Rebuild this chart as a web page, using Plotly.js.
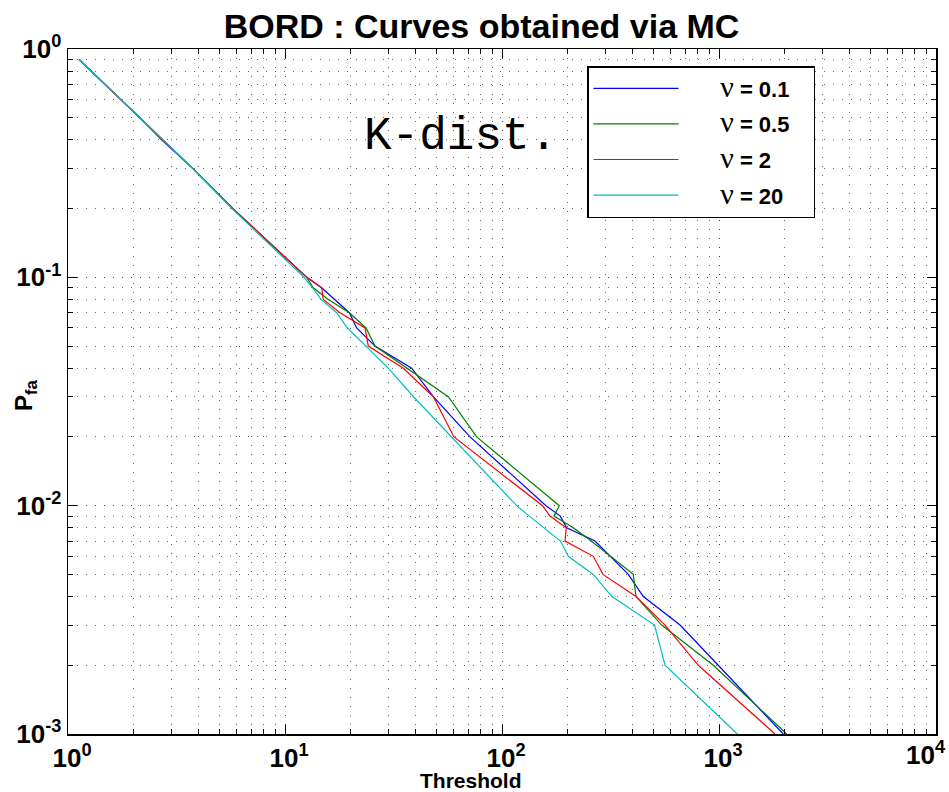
<!DOCTYPE html>
<html>
<head>
<meta charset="utf-8">
<script src="https://cdn.plot.ly/plotly-3.0.1.min.js"></script>
<style>
  html, body { margin: 0; padding: 0; background: #ffffff; }
  #chart { width: 949px; height: 792px; }
</style>
</head>
<body>
<div id="chart"></div>
<script>
// Probability of false alarm levels (common to all curves)
const pfa = [0.9, 0.8, 0.7, 0.6, 0.5, 0.4, 0.3, 0.2,
             0.1, 0.09, 0.08, 0.07, 0.06, 0.05, 0.04, 0.03, 0.02,
             0.01, 0.009, 0.008, 0.007, 0.006, 0.005, 0.004, 0.003, 0.002, 0.001];

// Thresholds for each shape parameter nu
const thrNu01 = [1.124, 1.279, 1.483, 1.753, 2.142, 2.70, 3.756, 5.75,
                 12.59, 14.76, 17.00, 19.79, 21.40, 25.98, 38.36, 48.25, 71.2,
                 159.5, 185.6, 198.7, 268.3, 314.6, 382.0, 448.0, 661.3, 991.5, 1978];
const thrNu05 = [1.124, 1.279, 1.483, 1.753, 2.142, 2.741, 3.756, 5.75,
                 12.59, 13.50, 15.83, 19.79, 23.62, 25.98, 36.38, 56.55, 76.43,
                 183.7, 173.6, 213.1, 257.9, 316.9, 402.8, 414.5, 544.4, 941.3, 2051];
const thrNu2  = [1.124, 1.279, 1.483, 1.753, 2.142, 2.741, 3.756, 5.75,
                 12.59, 14.76, 15.01, 17.93, 23.37, 24.20, 35.09, 48.25, 60.08,
                 153.7, 166.4, 197.8, 195.1, 263.5, 292.0, 414.5, 564.0, 802.9, 1812];
const thrNu20 = [1.124, 1.279, 1.483, 1.753, 2.142, 2.741, 3.756, 5.70,
                 12.24, 13.42, 14.65, 17.31, 19.37, 23.62, 29.92, 39.10, 58.64,
                 116.9, 133.6, 155.7, 186.0, 202.1, 263.5, 321.3, 504.4, 564.0, 1214];

const nuLabels = ["0.1", "0.5", "2", "20"];
const seriesColors = ["#0000ff", "#007f00", "#ff0000", "#00bfbf"];
const seriesThr = [thrNu01, thrNu05, thrNu2, thrNu20];

const xTickVals = [1, 10, 100, 1000, 10000];
// the last decade label sits at the figure edge and is drawn as an annotation below
const xTickText = ["10<sup>0</sup>", "10<sup>1</sup>", "10<sup>2</sup>", "10<sup>3</sup>", ""];
const xLastTickText = "10<sup>4</sup>";
const yTickVals = [0.001, 0.01, 0.1, 1];
const yTickText = ["10<sup>-3</sup>", "10<sup>-2</sup>", "10<sup>-1</sup>", "10<sup>0</sup>"];

const FONT = "Liberation Sans, Arial, Helvetica, sans-serif";
const NB = "\u00a0";

const traces = seriesThr.map((thr, i) => ({
  type: "scatter",
  mode: "lines",
  x: thr,
  y: pfa,
  name: NB.repeat(6) + "<span style='font-family:Liberation Serif;font-weight:normal;font-size:30px'>ν</span> = " + nuLabels[i] + NB.repeat(3),
  legendgroup: "g" + i,
  line: { color: seriesColors[i], width: 1.2 },
  hoverinfo: "skip"
}));

const gridDash = "1px,8px";

function axisCommon() {
  return {
    type: "log",
    tickfont: { family: FONT, size: 26, weight: "bold" },
    ticks: "inside",
    ticklen: 9,
    tickwidth: 1,
    tickcolor: "#000000",
    showline: true,
    linecolor: "#000000",
    linewidth: 1.5,
    mirror: "allticks",
    showgrid: true,
    gridcolor: "#444444",
    gridwidth: 1,
    griddash: gridDash,
    zeroline: false,
    minor: {
      dtick: "D1",
      ticks: "inside",
      ticklen: 5,
      tickcolor: "#000000",
      showgrid: true,
      gridcolor: "#666666",
      gridwidth: 1,
      griddash: gridDash
    }
  };
}

const xaxis = Object.assign(axisCommon(), {
  range: [0, 4],
  tickvals: xTickVals,
  ticktext: xTickText,
  ticklabelshift: 4,
  title: { text: "" }
});
const yaxis = Object.assign(axisCommon(), {
  range: [-3, 0],
  tickvals: yTickVals,
  ticktext: yTickText,
  title: { text: "" }
});

const layout = {
  width: 949,
  height: 792,
  paper_bgcolor: "#ffffff",
  plot_bgcolor: "#ffffff",
  margin: { l: 68, r: 13, t: 49, b: 58, pad: 0 },
  font: { family: FONT, color: "#000000" },
  title: {
    text: "BORD : Curves obtained via MC",
    font: { family: FONT, size: 34, weight: "bold", color: "#000000" },
    x: (481.5 - 68) / 868, xref: "paper", xanchor: "center",
    y: 1 - 14 / 792, yref: "container", yanchor: "top"
  },
  showlegend: true,
  legend: {
    x: (587 - 68) / 868, xanchor: "left",
    y: (734 - 66) / 685, yanchor: "top",
    bgcolor: "#ffffff",
    bordercolor: "#000000",
    borderwidth: 1.5,
    font: { family: FONT, size: 22, weight: "bold", color: "#000000" },
    itemwidth: 85,
    tracegroupgap: 4,
    traceorder: "grouped"
  },
  xaxis: xaxis,
  yaxis: yaxis,
  annotations: [
    {
      text: "K-dist.",
      xref: "paper", yref: "paper",
      x: (362 - 68) / 868, xanchor: "left",
      y: (734 - 137) / 685, yanchor: "middle",
      showarrow: false,
      font: { family: "Liberation Mono, Courier New, monospace", size: 46, color: "#000000" }
    },
    {
      text: xLastTickText,
      xref: "paper", yref: "paper",
      x: (947 - 68) / 868, xanchor: "right",
      y: -(753 - 734) / 685, yanchor: "middle",
      showarrow: false,
      borderpad: 0,
      font: { family: FONT, size: 26, weight: "bold", color: "#000000" }
    },
    {
      text: "Threshold",
      xref: "paper", yref: "paper",
      x: (471 - 68) / 868, xanchor: "center",
      y: -(780 - 734) / 685, yanchor: "middle",
      showarrow: false,
      borderpad: 0,
      font: { family: FONT, size: 21, weight: "bold", color: "#000000" }
    },
    {
      text: "P<sub>fa</sub>",
      xref: "paper", yref: "paper",
      x: -(68 - 25) / 868, xanchor: "center",
      y: (734 - 395) / 685, yanchor: "middle",
      textangle: -90,
      showarrow: false,
      font: { family: FONT, size: 24, weight: "bold", color: "#000000" }
    }
  ]
};

Plotly.newPlot("chart", traces, layout, { staticPlot: true, displayModeBar: false });
</script>
</body>
</html>
